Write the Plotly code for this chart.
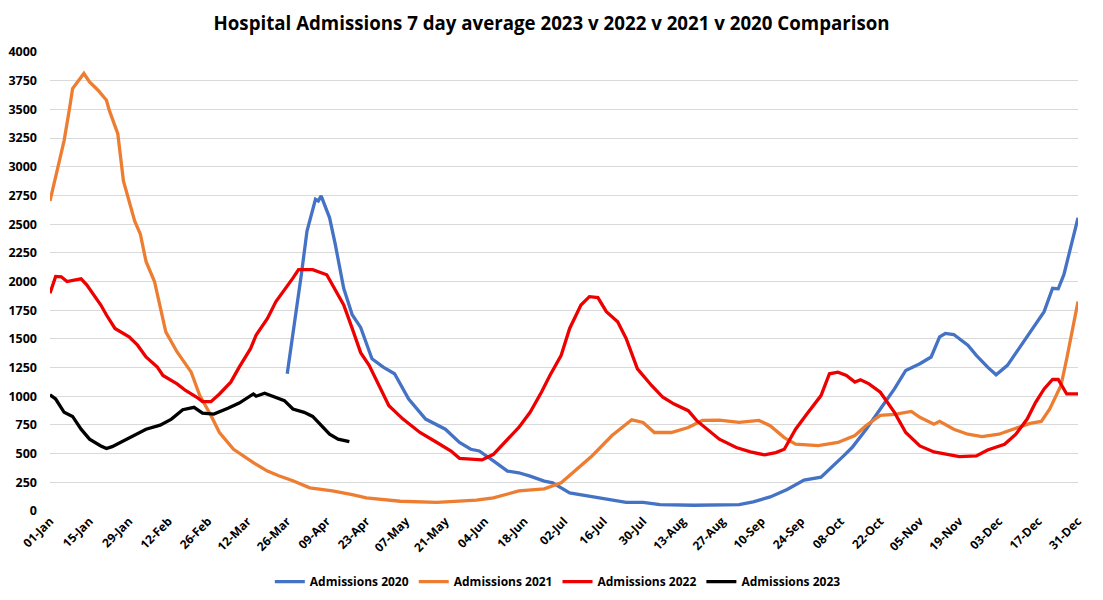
import plotly.graph_objects as go

# tick labels (every 14 days from 01-Jan)
tick_days = list(range(0, 365, 14))
tick_labels = ["01-Jan", "15-Jan", "29-Jan", "12-Feb", "26-Feb", "12-Mar", "26-Mar", "09-Apr",
               "23-Apr", "07-May", "21-May", "04-Jun", "18-Jun", "02-Jul", "16-Jul", "30-Jul",
               "13-Aug", "27-Aug", "10-Sep", "24-Sep", "08-Oct", "22-Oct", "05-Nov", "19-Nov",
               "03-Dec", "17-Dec", "31-Dec"]

##### Admissions 2020 (day of year, value)
day_2020 = [84, 86, 89, 91, 94, 95, 96, 99, 101, 104, 107, 110, 114, 118, 122, 127, 133, 140, 145,
            149, 152, 157, 162, 166, 170, 175, 178, 184, 192, 199, 204, 210, 216, 228, 240, 244,
            249, 255, 261, 267, 273, 276, 281, 284, 289, 294, 299, 303, 308, 312, 315, 317, 320,
            325, 328, 332, 335, 339, 343, 348, 352, 355, 357, 359, 361, 364]
adm_2020 = [1196, 1535, 2061, 2439, 2717, 2702, 2746, 2555, 2325, 1941, 1710, 1600, 1327, 1254, 1196,
            976, 801, 713, 597, 538, 523, 436, 348, 333, 304, 260, 246, 158, 123, 99, 76, 76, 55,
            50, 50, 55, 79, 123, 187, 269, 295, 362, 480, 553, 713, 889, 1064, 1225, 1283, 1342,
            1518, 1547, 1538, 1445, 1357, 1254, 1187, 1269, 1415, 1590, 1737, 1941, 1936, 2059,
            2263, 2555]

##### Admissions 2021
day_2021 = [0, 5, 7, 8, 12, 14, 17, 20, 21, 24, 26, 30, 32, 34, 37, 39, 41, 45, 50, 53, 57, 60, 65,
            72, 77, 81, 86, 92, 100, 107, 112, 124, 137, 151, 157, 166, 175, 181, 185, 192, 199,
            206, 210, 214, 220, 226, 231, 237, 244, 251, 255, 260, 264, 272, 279, 285, 289, 294,
            299, 305, 308, 313, 315, 320, 325, 330, 336, 341, 347, 351, 354, 358, 360, 364]
adm_2021 = [2702, 3228, 3520, 3681, 3813, 3740, 3667, 3579, 3491, 3289, 2877, 2526, 2412, 2175, 2000,
            1766, 1561, 1386, 1210, 1009, 833, 684, 538, 421, 348, 307, 263, 202, 175, 143, 114, 85,
            76, 94, 114, 175, 193, 246, 333, 482, 658, 795, 772, 684, 684, 728, 789, 792, 772, 789,
            744, 640, 582, 570, 597, 658, 745, 833, 842, 868, 816, 757, 781, 713, 669, 649, 669,
            713, 763, 781, 889, 1096, 1327, 1825]

##### Admissions 2022
day_2022 = [0, 2, 4, 6, 9, 11, 13, 15, 18, 20, 23, 28, 31, 34, 38, 40, 45, 48, 52, 54, 57, 60, 64,
            67, 71, 73, 77, 80, 84, 86, 88, 93, 98, 100, 104, 107, 110, 113, 117, 120, 125, 131,
            137, 142, 145, 150, 153, 157, 162, 166, 170, 174, 177, 181, 184, 188, 191, 194, 197,
            201, 204, 208, 213, 217, 221, 226, 229, 234, 237, 243, 248, 253, 257, 260, 264, 268,
            273, 276, 279, 282, 285, 287, 290, 294, 299, 303, 308, 313, 318, 322, 328, 332, 338,
            342, 346, 349, 352, 355, 357, 360, 364]
adm_2022 = [1897, 2044, 2041, 2000, 2015, 2023, 1971, 1897, 1795, 1708, 1591, 1518, 1445, 1342, 1254,
            1181, 1108, 1050, 991, 953, 953, 1020, 1123, 1254, 1415, 1533, 1678, 1825, 1956, 2029,
            2103, 2103, 2059, 1971, 1795, 1591, 1380, 1269, 1064, 918, 801, 684, 597, 523, 459,
            450, 445, 494, 626, 728, 860, 1035, 1181, 1357, 1591, 1795, 1868, 1860, 1737, 1649,
            1503, 1239, 1094, 991, 932, 874, 787, 684, 626, 553, 515, 489, 509, 538, 713, 845,
            1006, 1196, 1210, 1181, 1123, 1143, 1108, 1035, 860, 684, 567, 515, 489, 474, 480,
            532, 582, 669, 801, 947, 1064, 1146, 1146, 1020, 1020]

##### Admissions 2023
day_2023 = [0, 2, 5, 8, 11, 14, 18, 20, 22, 26, 30, 34, 39, 43, 47, 51, 54, 58, 63, 67, 72, 73, 76,
            79, 83, 86, 90, 93, 96, 99, 102, 106]
adm_2023 = [1012, 976, 860, 824, 713, 626, 567, 544, 561, 611, 660, 713, 748, 801, 883, 903, 853,
            845, 895, 941, 1020, 1000, 1026, 1000, 962, 889, 860, 824, 743, 669, 626, 605]

series = [
    ("Admissions 2020", day_2020, adm_2020, "#4472C4"),
    ("Admissions 2021", day_2021, adm_2021, "#ED7D31"),
    ("Admissions 2022", day_2022, adm_2022, "#EE0000"),
    ("Admissions 2023", day_2023, adm_2023, "#000000"),
]

fig = go.Figure()
for name, xs, ys, col in series:
    fig.add_trace(go.Scatter(x=xs, y=ys, mode="lines", name="<b>" + name + "</b>",
                             line=dict(color=col, width=3.3)))

fig.update_layout(
    width=1103, height=600,
    paper_bgcolor="white", plot_bgcolor="white",
    margin=dict(l=42, r=33, t=44, b=97),
    title=dict(text="<b>Hospital Admissions 7 day average 2023 v 2022 v 2021 v 2020 Comparison</b>",
               x=0.4928, xanchor="center", y=0.975, yanchor="middle",
               font=dict(family="Open Sans", size=18.7, color="#000000")),
    font=dict(family="Open Sans", color="#000000"),
    legend=dict(orientation="h", x=0.494, xanchor="center", y=-0.154, yanchor="middle",
                font=dict(size=12, color="#000000"), itemwidth=30, tracegroupgap=0),
    showlegend=True,
)
fig.update_xaxes(
    range=[0, 364], tickmode="array", tickvals=tick_days,
    ticktext=["<b>" + t + "</b>" for t in tick_labels],
    tickangle=-45, tickfont=dict(size=12), showgrid=False, zeroline=False,
    showline=False, ticks="", automargin=False,
)
fig.update_yaxes(
    range=[0, 4000], tick0=0, dtick=250,
    tickfont=dict(size=12.5), tickprefix="<b>", ticksuffix="</b>",
    showgrid=True, gridcolor="#D9D9D9", gridwidth=1, zeroline=False, showline=False,
    automargin=False, ticklabelstandoff=12,
)

fig.write_html("out.html")
